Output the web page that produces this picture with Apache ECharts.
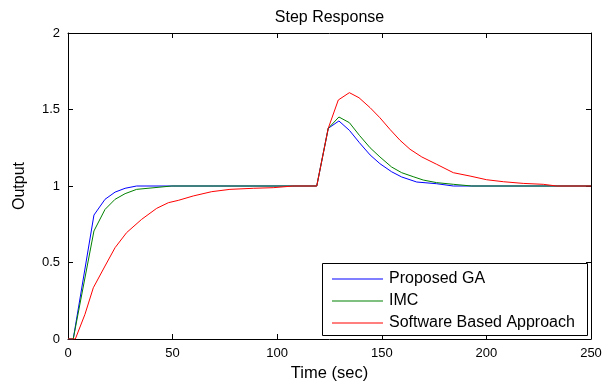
<!DOCTYPE html>
<html>
<head>
<meta charset="utf-8">
<script src="https://cdn.jsdelivr.net/npm/echarts@6/dist/echarts.min.js"></script>
<style>
html,body{margin:0;padding:0;background:#fff;}
#chart{width:610px;height:383px;}
</style>
</head>
<body>
<div id="chart"></div>
<script>
const seriesNames = ['Proposed GA', 'IMC', 'Software Based Approach'];
const xTicks = [0, 50, 100, 150, 200, 250];
const yTicks = [0, 0.5, 1, 1.5, 2];

const gaT = [0, 2.5, 12.4, 17.7, 22.5, 27.3, 32.8, 118.9, 124.4, 129.5, 134.5, 139.3, 144.4, 149.1, 154.7, 159.5, 166.7, 176.2, 184.2, 250];
const gaY = [0, 0, 0.81, 0.913, 0.96, 0.985, 1.0, 1.0, 1.377, 1.425, 1.364, 1.283, 1.203, 1.146, 1.093, 1.059, 1.026, 1.015, 1.0, 1.0];

const imcT = [0, 2.5, 12.4, 17.7, 22.5, 27.3, 32.8, 49.6, 118.9, 124.4, 129.5, 134.5, 139.3, 144.4, 149.1, 154.7, 159.5, 165, 169.8, 176.2, 184.2, 193, 250];
const imcY = [0, 0, 0.706, 0.847, 0.913, 0.95, 0.978, 1.0, 1.0, 1.377, 1.451, 1.414, 1.331, 1.25, 1.19, 1.124, 1.087, 1.061, 1.039, 1.022, 1.011, 1.0, 1.0];

const sbaT = [0, 3.5, 8.1, 12.1, 17.7, 22.5, 28, 35.2, 42.4, 48, 52.7, 59.9, 68.7, 77.4, 88.6, 98.1, 107.7, 118.9, 124.4, 129.2, 134.5, 139.1, 144.4, 149.1, 153.9, 158.7, 163.5, 169.1, 176.2, 184.2, 192.2, 200.1, 208.1, 217.6, 227.2, 233.6, 250];
const sbaY = [0, 0, 0.161, 0.335, 0.477, 0.597, 0.695, 0.782, 0.854, 0.891, 0.906, 0.935, 0.963, 0.978, 0.985, 0.989, 1.0, 1.0, 1.377, 1.562, 1.61, 1.577, 1.512, 1.446, 1.37, 1.299, 1.24, 1.19, 1.142, 1.087, 1.065, 1.041, 1.028, 1.017, 1.011, 1.0, 1.0];

const colors = ['#0000ff', '#008000', '#ff0000'];
const FONT = '"Liberation Sans", Arial, sans-serif';

function pairs(t, y) { return t.map((v, i) => [v, y[i]]); }

const chart = echarts.init(document.getElementById('chart'), null, {renderer: 'canvas'});

const axisCommon = {
  axisLine: {show: true, onZero: false, lineStyle: {color: '#000', width: 1}},
  axisTick: {show: true, inside: true, length: 5, lineStyle: {color: '#000'}},
  splitLine: {show: false}
};

const option = {
  backgroundColor: '#fff',
  animation: false,
  title: {
    text: 'Step Response',
    left: 324.5, top: 5, textAlign: 'center',
    textStyle: {fontFamily: FONT, fontSize: 16, fontWeight: 'normal', color: '#000'}
  },
  grid: {left: 68, right: 19, top: 33, bottom: 44, containLabel: false, outerBoundsMode: 'none'},
  xAxis: [
    Object.assign({}, axisCommon, {
      type: 'value', min: 0, max: 250, interval: 50, position: 'bottom',
      name: 'Time (sec)', nameLocation: 'middle', nameGap: 26, nameMoveOverlap: false,
      nameTextStyle: {fontFamily: FONT, fontSize: 16.5, color: '#000'},
      axisLabel: {fontFamily: FONT, fontSize: 13, color: '#000', margin: 8,
        formatter: v => xTicks.includes(v) ? String(v) : ''}
    }),
    Object.assign({}, axisCommon, {
      type: 'value', min: 0, max: 250, interval: 50, position: 'top',
      axisLabel: {show: false}
    })
  ],
  yAxis: [
    Object.assign({}, axisCommon, {
      type: 'value', min: 0, max: 2, interval: 0.5, position: 'left',
      name: 'Output', nameLocation: 'middle', nameGap: 40, nameMoveOverlap: false,
      nameTextStyle: {fontFamily: FONT, fontSize: 16, color: '#000'},
      axisLabel: {fontFamily: FONT, fontSize: 13, color: '#000', margin: 8,
        formatter: v => yTicks.includes(v) ? String(v) : ''}
    }),
    Object.assign({}, axisCommon, {
      type: 'value', min: 0, max: 2, interval: 0.5, position: 'right',
      axisLabel: {show: false}
    })
  ],
  legend: {
    orient: 'vertical',
    left: 332, top: 271,
    padding: 0,
    itemWidth: 51, itemHeight: 1, itemGap: 6,
    icon: 'rect',
    z: 20,
    textStyle: {fontFamily: FONT, fontSize: 16, color: '#000', lineHeight: 16, padding: [0, 0, 0, 1]},
    data: seriesNames
  },
  graphic: [{
    type: 'rect', z: 10,
    shape: {x: 322.5, y: 263.5, width: 265, height: 72},
    style: {fill: '#fff', stroke: '#000', lineWidth: 1}
  }],
  series: [
    {name: seriesNames[0], type: 'line', data: pairs(gaT, gaY), symbol: 'none', color: colors[0], lineStyle: {width: 1, color: colors[0]}},
    {name: seriesNames[1], type: 'line', data: pairs(imcT, imcY), symbol: 'none', color: colors[1], lineStyle: {width: 1, color: colors[1]}},
    {name: seriesNames[2], type: 'line', data: pairs(sbaT, sbaY), symbol: 'none', color: colors[2], lineStyle: {width: 1, color: colors[2]}}
  ]
};
chart.setOption(option);
</script>
</body>
</html>
